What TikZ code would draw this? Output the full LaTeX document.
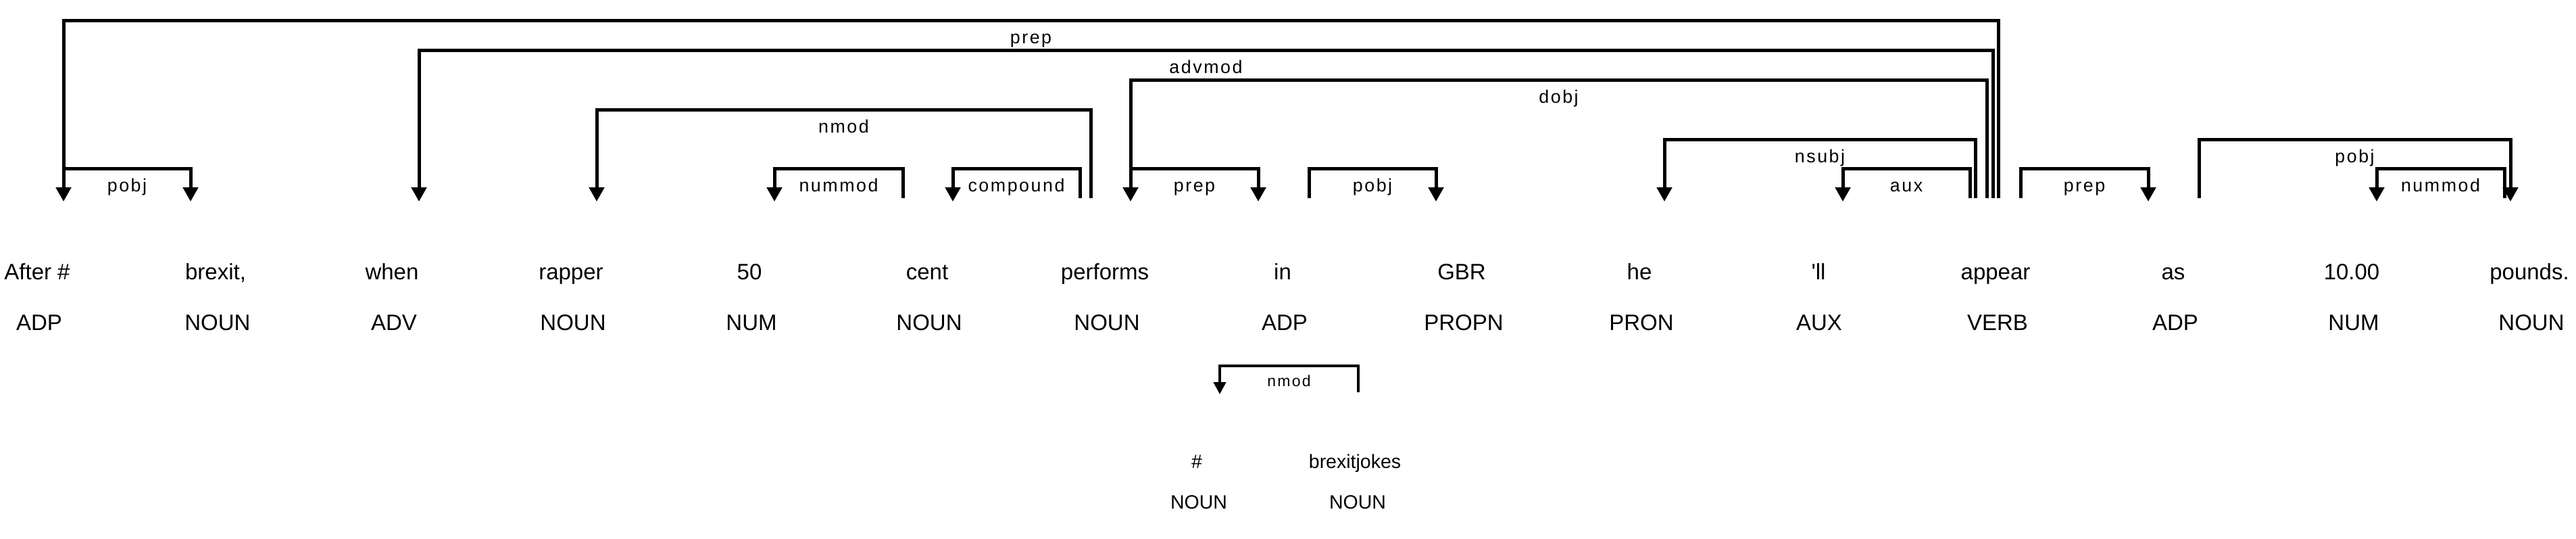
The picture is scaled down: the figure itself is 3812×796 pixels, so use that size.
\documentclass[tikz,border=0pt]{standalone}
\usepackage{fontspec}
\setmainfont{Liberation Sans}
\newfontfamily\lblfont[LetterSpace=9.5]{Liberation Sans}
\usetikzlibrary{arrows.meta,calc}
\begin{document}
\begin{tikzpicture}[x=1pt,y=-1pt,
  word/.style={anchor=base, inner sep=0pt, font=\fontsize{33}{40}\selectfont},
  sword/.style={anchor=base, inner sep=0pt, font=\fontsize{28.5}{34}\selectfont},
  lbl/.style={anchor=base, inner sep=0pt, font=\lblfont\fontsize{26.8}{32}\selectfont, yshift=-34pt},
  slbl/.style={anchor=base, inner sep=0pt, font=\lblfont\fontsize{23}{28}\selectfont, yshift=-30pt},
  arc/.style={line width=5pt, line join=miter, -{Triangle[length=21pt,width=22pt]}},
  sarc/.style={line width=4.3pt, line join=miter, -{Triangle[length=18pt,width=18pt]}},
]
\useasboundingbox (0,0) rectangle (3812,796);
% words
\node[word] (w0) at (55,413) {After \#};
\node[word] (w1) at (319,413) {brexit,};
\node[word] (w2) at (580,413) {when};
\node[word] (w3) at (845,413) {rapper};
\node[word] (w4) at (1109,413) {50};
\node[word] (w5) at (1372,413) {cent};
\node[word] (w6) at (1635,413) {performs};
\node[word] (w7) at (1898,413) {in};
\node[word] (w8) at (2163,413) {GBR};
\node[word] (w9) at (2426,413) {he};
\node[word] (w10) at (2691,413) {\textquotesingle ll};
\node[word] (w11) at (2953,413) {appear};
\node[word] (w12) at (3216,413) {as};
\node[word] (w13) at (3480,413) {10.00};
\node[word] (w14) at (3743,413) {pounds.};
% tags
\node[word] (t0) at (58,488) {ADP};
\node[word] (t1) at (322,488) {NOUN};
\node[word] (t2) at (583,488) {ADV};
\node[word] (t3) at (848,488) {NOUN};
\node[word] (t4) at (1112,488) {NUM};
\node[word] (t5) at (1375,488) {NOUN};
\node[word] (t6) at (1638,488) {NOUN};
\node[word] (t7) at (1901,488) {ADP};
\node[word] (t8) at (2166,488) {PROPN};
\node[word] (t9) at (2429,488) {PRON};
\node[word] (t10) at (2692,488) {AUX};
\node[word] (t11) at (2956,488) {VERB};
\node[word] (t12) at (3219,488) {ADP};
\node[word] (t13) at (3483,488) {NUM};
\node[word] (t14) at (3746,488) {NOUN};
% second sentence part
\node[sword] (b0) at (1771,692) {\#};
\node[sword] (b1) at (2005,692) {brexitjokes};
\node[sword] (bt0) at (1774,752) {NOUN};
\node[sword] (bt1) at (2009,752) {NOUN};
% arc end points (heads at 293, dependents at 298)
\coordinate (aHprep) at (2957,293);  \coordinate (aDafter) at (94,298);
\coordinate (aHadv) at (2949,293);   \coordinate (aDwhen) at (620,298);
\coordinate (aHdobj) at (2940,293);  \coordinate (aDperf) at (1673,298);
\coordinate (aHnmod) at (1614,293);  \coordinate (aDrap) at (883,298);
\coordinate (aHnsubj) at (2923,293); \coordinate (aDhe) at (2463,298);
\coordinate (aHaux) at (2915,293);   \coordinate (aDll) at (2727,298);
\coordinate (aHpobj1) at (94,293);   \coordinate (aDbrex) at (282,298);
\coordinate (aHnum1) at (1336,293);  \coordinate (aD50) at (1146,298);
\coordinate (aHcomp) at (1598,293);  \coordinate (aDcent) at (1410,298);
\coordinate (aHprep2) at (1673,293); \coordinate (aDin) at (1862,298);
\coordinate (aHpobj2) at (1937,293); \coordinate (aDgbr) at (2125,298);
\coordinate (aHprep3) at (2990,293); \coordinate (aDas) at (3179,298);
\coordinate (aHpobj3) at (3254,293); \coordinate (aDpounds) at (3715,298);
\coordinate (aHnum2) at (3706,293);  \coordinate (aD10) at (3517,298);
\coordinate (aHnmod2) at (2010,580); \coordinate (aDhash) at (1805,583);
% arcs
\draw[arc] (aHprep) -- (aHprep |- 0,30) -| node[lbl,pos=0.25]{prep} (aDafter);
\draw[arc] (aHadv) -- (aHadv |- 0,74) -| node[lbl,pos=0.25]{advmod} (aDwhen);
\draw[arc] (aHdobj) -- (aHdobj |- 0,118) -| node[lbl,pos=0.25]{dobj} (aDperf);
\draw[arc] (aHnmod) -- (aHnmod |- 0,162) -| node[lbl,pos=0.25]{nmod} (aDrap);
\draw[arc] (aHnsubj) -- (aHnsubj |- 0,206) -| node[lbl,pos=0.25]{nsubj} (aDhe);
\draw[arc] (aHaux) -- (aHaux |- 0,249) -| node[lbl,pos=0.25]{aux} (aDll);
\draw[arc] (aHpobj1) -- (aHpobj1 |- 0,249) -| node[lbl,pos=0.25]{pobj} (aDbrex);
\draw[arc] (aHnum1) -- (aHnum1 |- 0,249) -| node[lbl,pos=0.25]{nummod} (aD50);
\draw[arc] (aHcomp) -- (aHcomp |- 0,249) -| node[lbl,pos=0.25]{compound} (aDcent);
\draw[arc] (aHprep2) -- (aHprep2 |- 0,249) -| node[lbl,pos=0.25]{prep} (aDin);
\draw[arc] (aHpobj2) -- (aHpobj2 |- 0,249) -| node[lbl,pos=0.25]{pobj} (aDgbr);
\draw[arc] (aHprep3) -- (aHprep3 |- 0,249) -| node[lbl,pos=0.25]{prep} (aDas);
\draw[arc] (aHpobj3) -- (aHpobj3 |- 0,206) -| node[lbl,pos=0.25]{pobj} (aDpounds);
\draw[arc] (aHnum2) -- (aHnum2 |- 0,249) -| node[lbl,pos=0.25]{nummod} (aD10);
\draw[sarc] (aHnmod2) -- (aHnmod2 |- 0,541) -| node[slbl,pos=0.25]{nmod} (aDhash);
\end{tikzpicture}
\end{document}
